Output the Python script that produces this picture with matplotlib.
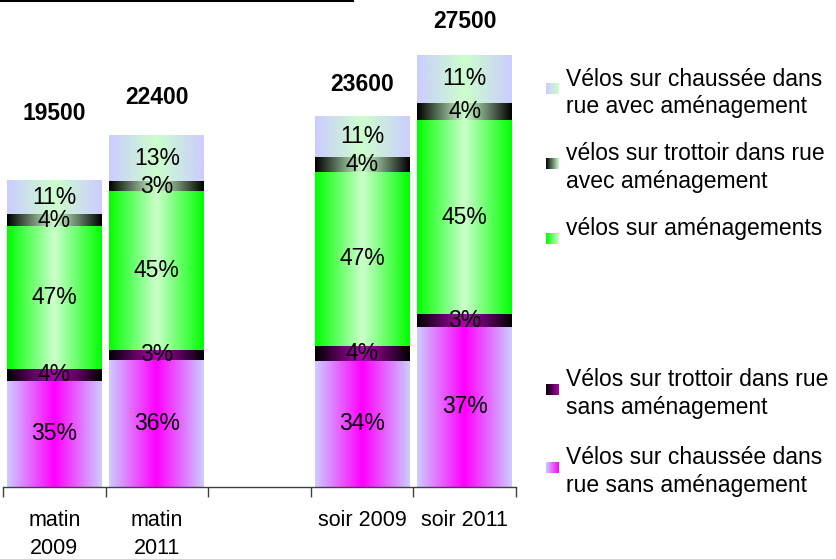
import numpy as np
import matplotlib
matplotlib.use("Agg")
import matplotlib.pyplot as plt
from matplotlib.colors import to_rgb

plt.rcParams['font.family'] = ['Liberation Sans', 'DejaVu Sans']

# ---------------- data ----------------
categories = ["matin\n2009", "matin\n2011", "", "soir 2009", "soir 2011"]
totals = [19500, 22400, None, 23600, 27500]
# shares (%) bottom -> top
chaussee_sans = [35, 36, None, 34, 37]
trottoir_sans = [4, 3, None, 4, 3]
amenagements = [47, 45, None, 47, 45]
trottoir_avec = [4, 3, None, 4, 4]
chaussee_avec = [11, 13, None, 11, 11]

series = [chaussee_sans, trottoir_sans, amenagements, trottoir_avec, chaussee_avec]
# (edge colour, centre colour) of the horizontal gradients
grad_colors = [
    ("#ccccff", "#ff00ff"),
    ("#000000", "#b000b0"),
    ("#00ff00", "#ccffcc"),
    ("#000000", "#ccffcc"),
    ("#ccccff", "#ccffcc"),
]
legend_labels = [
    "Vélos sur chaussée dans\nrue sans aménagement",
    "Vélos sur trottoir dans rue\nsans aménagement",
    "vélos sur aménagements",
    "vélos sur trottoir dans rue\navec aménagement",
    "Vélos sur chaussée dans\nrue avec aménagement",
]
# offsets (px) of the total labels above their bars
total_offsets_px = [67, 38, None, 32, 34]

W, H, DPI = 836, 559, 100
fig = plt.figure(figsize=(W / DPI, H / DPI), dpi=DPI)
ax = fig.add_axes([3 / W, 72.3 / H, 513 / W, 486.7 / H])
ax.set_xlim(-0.5, 4.5)
ax.set_ylim(0, 31020)

bar_w = 0.925


def gradient(edge, centre, n=256, half=False):
    e = np.array(to_rgb(edge))
    c = np.array(to_rgb(centre))
    if half:
        t = np.linspace(1, 0, n)
    else:
        x = np.linspace(0, 1, n)
        t = np.abs(2 * x - 1)
    img = c[None, :] * (1 - t[:, None]) + e[None, :] * t[:, None]
    return img[None, :, :]


for i, tot in enumerate(totals):
    if tot is None:
        continue
    shares = [s[i] for s in series]
    ssum = float(sum(shares))
    bottom = 0.0
    for k, sh in enumerate(shares):
        h = tot * sh / ssum
        x0, x1 = i - bar_w / 2, i + bar_w / 2
        ax.imshow(gradient(*grad_colors[k]), extent=(x0, x1, bottom, bottom + h),
                  aspect='auto', interpolation='bilinear', zorder=2)
        ax.text(i, bottom + h / 2, f"{sh}%", ha='center', va='center',
                fontsize=16.5, color='black', zorder=3)
        bottom += h
    ax.annotate(f"{tot}", xy=(i, tot), xytext=(0, total_offsets_px[i] * 72 / DPI),
                textcoords='offset points', ha='center', va='center',
                fontsize=16.5, fontweight='bold', zorder=3)

ax.set_xlim(-0.5, 4.5)
ax.set_ylim(0, 31020)
for s in ['top', 'right', 'left']:
    ax.spines[s].set_visible(False)
ax.spines['bottom'].set_color('#404040')
ax.spines['bottom'].set_linewidth(1.0)
ax.set_yticks([])
ax.set_xticks(range(len(categories)))
ax.set_xticklabels(categories, fontsize=15.5, linespacing=1.42)
ax.set_xticks(np.arange(-0.5, 4.6, 1.0), minor=True)
ax.tick_params(axis='x', which='major', length=0, pad=17)
ax.tick_params(axis='x', which='minor', length=7, width=1, color='#404040', direction='out')

# legend drawn on an overlay in pixel coordinates
lax = fig.add_axes([0, 0, 1, 1])
lax.set_xlim(0, W)
lax.set_ylim(H, 0)
lax.axis('off')
legend_y = [459, 381, 230, 155, 80]  # first-line cap centres, px from top
for k in range(5):
    y = legend_y[k]
    lax.imshow(gradient(*grad_colors[k], half=True), extent=(546, 559, y + 14, y + 3),
               aspect='auto', interpolation='bilinear')
    lax.text(566, y - 12.5, legend_labels[k], ha='left', va='top', fontsize=16.5,
             linespacing=1.25)
lax.set_xlim(0, W)
lax.set_ylim(H, 0)
# top-left rule
lax.plot([0, 353], [1, 1], color='black', lw=1.5)

fig.savefig("out.png", dpi=DPI)
